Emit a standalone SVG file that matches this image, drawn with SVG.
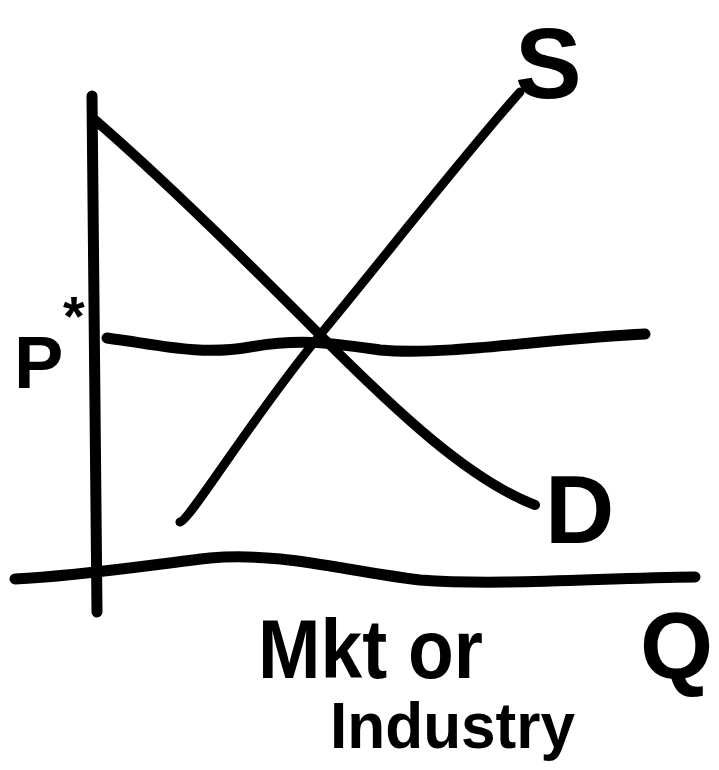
<svg xmlns="http://www.w3.org/2000/svg" width="719" height="770" viewBox="0 0 719 770">
<style>
.ln{fill:none;stroke:#000;stroke-linecap:round;stroke-linejoin:round}
.lb{font-family:"Liberation Sans",Arial,sans-serif;font-weight:bold;fill:#000}
</style>
<rect width="719" height="770" fill="#fff"/>
<g id="connectors">
<path class="ln" stroke-width="11" d="M92,96 C94,250 95,450 97,612"/>
<path class="ln" stroke-width="11" d="M15,579 C80,576 150,565 210,558 C280,552 340,570 420,580 C500,586 600,578 695,577"/>
<path class="ln" stroke-width="10" d="M95,120 C170,185 250,265 320,335 C400,415 470,480 535,505"/>
<path class="ln" stroke-width="9" d="M180,522 C190,520 250,420 320,335 C390,250 460,160 520,92"/>
<path class="ln" stroke-width="11" d="M107,338 C160,345 200,356 250,347 C300,338 330,343 380,350 C450,356 550,338 645,334"/>
</g>
<g id="S"><text class="lb" x="515" y="98" font-size="100">S</text></g>
<g id="D"><text class="lb" x="545" y="543" font-size="96">D</text></g>
<g id="Pstar"><text class="lb" x="14" y="388" font-size="74">P</text><text class="lb" x="63" y="335" font-size="56">*</text></g>
<g id="Q"><text class="lb" x="640" y="678" font-size="94">Q</text></g>
<g id="label"><text class="lb" x="258" y="678" font-size="84" textLength="225" lengthAdjust="spacingAndGlyphs">Mkt or</text><text class="lb" x="330" y="748" font-size="64" textLength="245" lengthAdjust="spacingAndGlyphs">Industry</text></g>
</svg>
